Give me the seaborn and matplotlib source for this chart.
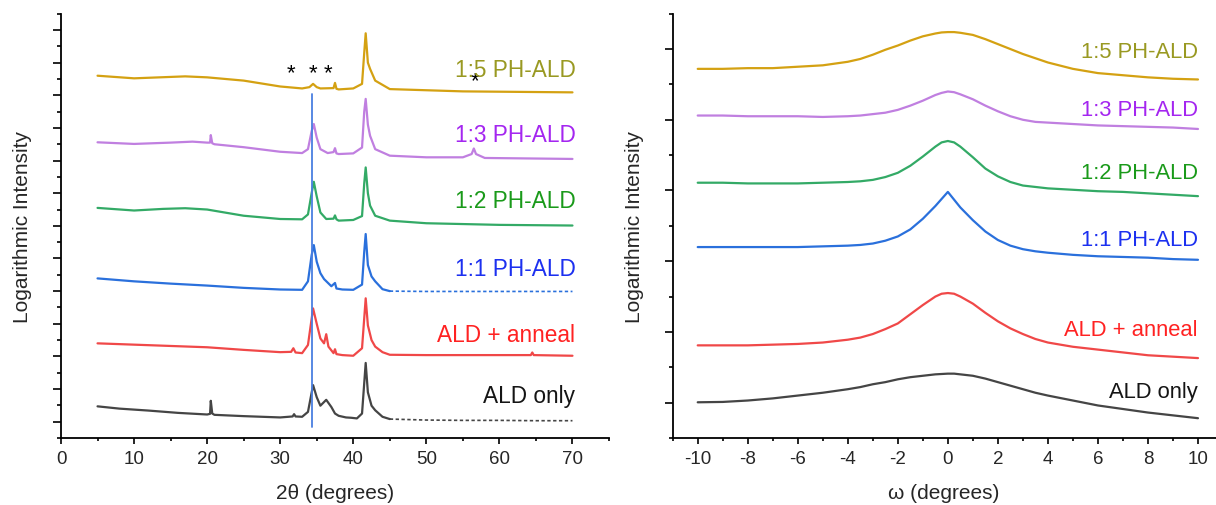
import numpy as np
import pandas as pd
import matplotlib
matplotlib.use("Agg")
import matplotlib.pyplot as plt
import seaborn as sns
from matplotlib.ticker import MultipleLocator, NullFormatter

# ---------------- data: left panel (2theta scans, log intensity, offset) -------------
names = ["ALD only", "ALD + anneal", "1:1 PH-ALD", "1:2 PH-ALD", "1:3 PH-ALD", "1:5 PH-ALD"]

tt_ald_x = [5, 8, 12, 16, 20, 20.4, 20.5, 20.7, 21, 25, 30, 31.7, 31.9, 32.1, 33, 33.8, 34.5, 35.0,
            35.5, 36.3, 37.0, 37.5, 38, 39, 39.7, 40.5, 41.2, 41.7, 42.0, 42.5, 43, 44, 45,
            50, 55, 60, 65, 70]
tt_ald_y = [0.47, 0.40, 0.34, 0.27, 0.22, 0.24, 0.64, 0.25, 0.21, 0.17, 0.13, 0.16, 0.23, 0.16, 0.15,
            0.30, 1.12, 0.75, 0.49, 0.67, 0.45, 0.25, 0.18, 0.13, 0.12, 0.10, 0.25, 1.80, 0.90, 0.49,
            0.35, 0.15, 0.08, 0.05, 0.04, 0.04, 0.03, 0.03]

tt_ann_x = [5, 10, 15, 20, 25, 30, 31.5, 31.8, 32.1, 33, 33.8, 34.5, 35.0, 35.5, 36.0, 36.3, 36.6,
            37.3, 37.5, 37.7, 38.5, 40, 41.2, 41.7, 42.0, 42.5, 43, 44, 45, 50, 55, 60, 64.3, 64.5,
            64.7, 70]
tt_ann_y = [2.40, 2.36, 2.32, 2.28, 2.20, 2.13, 2.14, 2.25, 2.12, 2.10, 2.35, 3.47, 3.00, 2.55, 2.40,
            2.68, 2.30, 2.10, 2.22, 2.07, 2.04, 2.02, 2.25, 3.78, 2.95, 2.50, 2.30, 2.13, 2.05, 2.04,
            2.04, 2.04, 2.04, 2.12, 2.04, 2.02]

tt_11_x = [5, 10, 15, 20, 25, 30, 33, 33.8, 34.3, 34.6, 35.0, 35.5, 36, 37, 37.5, 37.7, 38.5, 40,
           41.2, 41.5, 41.7, 42.0, 42.5, 43, 44, 45, 50, 55, 60, 65, 70]
tt_11_y = [4.39, 4.30, 4.23, 4.17, 4.10, 4.05, 4.04, 4.30, 5.10, 5.41, 4.90, 4.55, 4.37, 4.15, 4.25,
           4.08, 4.05, 4.04, 4.20, 5.20, 5.75, 4.80, 4.45, 4.30, 4.06, 4.00, 3.99, 3.99, 3.99, 3.99,
           3.99]

tt_12_x = [5, 10, 14, 17, 20, 25, 30, 33, 33.8, 34.3, 34.6, 35.0, 35.5, 36.3, 37.3, 37.5, 37.7, 38,
           40, 41.2, 41.5, 41.7, 42.0, 42.3, 43, 45, 50, 60, 70]
tt_12_y = [6.55, 6.47, 6.52, 6.54, 6.50, 6.31, 6.21, 6.20, 6.35, 7.00, 7.35, 6.90, 6.41, 6.21, 6.22,
           6.32, 6.20, 6.16, 6.18, 6.30, 7.30, 7.79, 7.00, 6.62, 6.31, 6.16, 6.08, 6.03, 6.01]

tt_13_x = [5, 10, 15, 18, 20, 20.4, 20.5, 20.7, 21, 25, 30, 33, 33.8, 34.3, 34.6, 35.0, 35.5, 36.5,
           37.3, 37.5, 37.7, 38, 40, 41.2, 41.5, 41.7, 42.0, 42.3, 43, 45, 50, 55, 56.2, 56.5, 56.8,
           58, 70]
tt_13_y = [8.56, 8.51, 8.55, 8.58, 8.55, 8.55, 8.78, 8.53, 8.50, 8.41, 8.27, 8.23, 8.35, 8.90, 9.12,
           8.70, 8.35, 8.23, 8.26, 8.38, 8.22, 8.20, 8.22, 8.40, 9.50, 9.89, 9.10, 8.76, 8.35, 8.15,
           8.10, 8.10, 8.20, 8.37, 8.20, 8.08, 8.05]

tt_15_x = [5, 10, 17, 20, 25, 30, 33, 34.0, 34.5, 35.0, 35.5, 37.3, 37.5, 37.7, 38, 40, 41.2, 41.5,
           41.7, 42.0, 42.3, 43, 45, 55, 70]
tt_15_y = [10.60, 10.52, 10.58, 10.55, 10.45, 10.27, 10.21, 10.25, 10.35, 10.25, 10.21, 10.22, 10.38,
           10.20, 10.18, 10.21, 10.35, 11.30, 11.90, 11.00, 10.81, 10.45, 10.19, 10.12, 10.09]

left_label_y = [0.80, 2.66, 4.68, 6.77, 8.81, 10.80]
star_x = [31.5, 34.5, 36.5, 56.6]
star_y = [10.68, 10.68, 10.68, 10.45]
ref_line_x = 34.4
ref_line_y = [-0.17, 10.04]

# ---------------- data: right panel (omega rocking curves) -------------
om_x = [-10, -9, -8, -7, -6, -5, -4, -3.5, -3, -2.5, -2, -1.5, -1, -0.5, -0.25, 0, 0.25, 0.5,
        1, 1.5, 2, 2.5, 3, 3.5, 4, 5, 6, 7, 8, 9, 10]
om_ald = [0.005, 0.01, 0.03, 0.06, 0.10, 0.14, 0.19, 0.22, 0.26, 0.29, 0.33, 0.36, 0.38, 0.40, 0.405,
          0.41, 0.41, 0.40, 0.38, 0.34, 0.29, 0.24, 0.19, 0.14, 0.10, 0.03, -0.04, -0.09, -0.14, -0.18,
          -0.22]
om_ann = [0.81, 0.81, 0.81, 0.82, 0.83, 0.85, 0.89, 0.92, 0.97, 1.04, 1.12, 1.25, 1.38, 1.50, 1.54,
          1.55, 1.54, 1.50, 1.40, 1.27, 1.15, 1.05, 0.97, 0.90, 0.85, 0.79, 0.75, 0.71, 0.67, 0.65, 0.63]
om_11 = [2.20, 2.20, 2.20, 2.20, 2.20, 2.21, 2.22, 2.23, 2.25, 2.29, 2.35, 2.45, 2.60, 2.78, 2.88,
         2.98, 2.87, 2.76, 2.58, 2.42, 2.30, 2.22, 2.17, 2.14, 2.12, 2.09, 2.07, 2.06, 2.05, 2.03, 2.02]
om_12 = [3.11, 3.11, 3.10, 3.10, 3.10, 3.11, 3.12, 3.13, 3.15, 3.19, 3.25, 3.35, 3.48, 3.62, 3.68,
         3.70, 3.68, 3.62, 3.47, 3.31, 3.20, 3.12, 3.07, 3.05, 3.03, 3.01, 2.99, 2.98, 2.96, 2.94, 2.92]
om_13 = [4.06, 4.06, 4.05, 4.05, 4.05, 4.04, 4.05, 4.06, 4.08, 4.10, 4.14, 4.20, 4.27, 4.35, 4.38,
         4.40, 4.39, 4.36, 4.29, 4.20, 4.12, 4.05, 4.00, 3.97, 3.96, 3.94, 3.92, 3.91, 3.90, 3.89, 3.87]
om_15 = [4.72, 4.72, 4.73, 4.73, 4.75, 4.77, 4.82, 4.86, 4.92, 4.99, 5.05, 5.12, 5.18, 5.22, 5.235,
         5.24, 5.24, 5.23, 5.20, 5.14, 5.07, 5.00, 4.93, 4.87, 4.81, 4.72, 4.66, 4.63, 4.60, 4.58, 4.57]
right_label_y = [0.16, 1.03, 2.31, 3.25, 4.15, 4.96]

line_colors = ["#454545", "#f04848", "#2a70dc", "#33aa66", "#c07fe0", "#d4a112"]
text_colors = ["#151515", "#ff2222", "#1c30f0", "#1a9a1a", "#a426f0", "#999922"]

# ---------------- styling -------------
sns.set_style("ticks")
plt.rcParams["font.family"] = ["Liberation Sans", "DejaVu Sans"]
plt.rcParams["axes.linewidth"] = 1.3
plt.rcParams["axes.unicode_minus"] = False

fig = plt.figure(figsize=(12.16, 5.06), dpi=100)
W, H = 1216, 506
bot = 1 - 439 / H
top = 1 - 14.7 / H
axL = fig.add_axes([61 / W, bot, (609 - 61) / W, top - bot])
axR = fig.add_axes([672.7 / W, bot, (1215.5 - 672.7) / W, top - bot])

LW = 1.6
tt_sets = [(tt_ald_x, tt_ald_y), (tt_ann_x, tt_ann_y), (tt_11_x, tt_11_y),
           (tt_12_x, tt_12_y), (tt_13_x, tt_13_y), (tt_15_x, tt_15_y)]
for i, (xs, ys) in enumerate(tt_sets):
    df = pd.DataFrame({"x": xs, "y": ys})
    if i in (0, 2):
        solid = df[df.x <= 45]
        tail = df[df.x >= 45]
        sns.lineplot(data=solid, x="x", y="y", ax=axL, color=line_colors[i], lw=LW,
                     sort=False, estimator=None)
        sns.lineplot(data=tail, x="x", y="y", ax=axL, color=line_colors[i], lw=1.2,
                     sort=False, estimator=None, linestyle=(0, (2, 1.5)))
    else:
        sns.lineplot(data=df, x="x", y="y", ax=axL, color=line_colors[i], lw=LW,
                     sort=False, estimator=None)

axL.plot([ref_line_x, ref_line_x], ref_line_y, color="#4a7fe0", lw=1.3, zorder=5)
for sx, sy in zip(star_x, star_y):
    axL.text(sx, sy, "*", ha="center", va="center", fontsize=16, color="black")
for i, name in enumerate(names):
    axL.text(70.4, left_label_y[i], name, ha="right", va="center", fontsize=16.3,
             color=text_colors[i])

om_sets = [om_ald, om_ann, om_11, om_12, om_13, om_15]
for i, ys in enumerate(om_sets):
    df = pd.DataFrame({"x": om_x, "y": ys})
    sns.lineplot(data=df, x="x", y="y", ax=axR, color=line_colors[i], lw=LW,
                 sort=False, estimator=None)
for i, name in enumerate(names):
    axR.text(10.0, right_label_y[i], name, ha="right", va="center", fontsize=15.8,
             color=text_colors[i])

axL.set_xlim(0, 75)
axL.set_ylim(-0.5, 12.5)
axL.xaxis.set_major_locator(MultipleLocator(10))
axL.xaxis.set_minor_locator(MultipleLocator(5))
axL.yaxis.set_major_locator(MultipleLocator(1))
axL.yaxis.set_minor_locator(MultipleLocator(0.5))

axR.set_xlim(-11, 10.7)
axR.set_ylim(-0.5, 5.5)
axR.set_xticks(range(-10, 11, 2))
axR.xaxis.set_minor_locator(MultipleLocator(1))
axR.yaxis.set_major_locator(MultipleLocator(1))
axR.yaxis.set_minor_locator(MultipleLocator(0.5))

for ax, xl in ((axL, "2\u03b8 (degrees)"), (axR, "\u03c9 (degrees)")):
    sns.despine(ax=ax)
    ax.yaxis.set_major_formatter(NullFormatter())
    ax.tick_params(axis="both", which="major", direction="out", width=1.2, color="black",
                   labelsize=13.5, pad=4)
    ax.tick_params(axis="y", which="major", length=5.8)
    ax.tick_params(axis="y", which="minor", direction="out", length=3, width=1.2, color="black")
    ax.tick_params(axis="x", which="major", length=4.5)
    ax.tick_params(axis="x", which="minor", direction="out", length=2.5, width=1.2, color="black")
    ax.set_xlabel(xl, fontsize=15, labelpad=12)
    ax.set_ylabel("Logarithmic Intensity", fontsize=15, labelpad=11)
    for sp in ax.spines.values():
        sp.set_color("black")

fig.savefig("out.png", dpi=100)
